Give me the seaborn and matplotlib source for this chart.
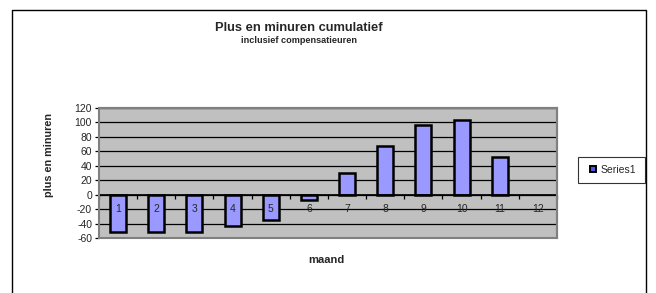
import numpy as np
import pandas as pd
import matplotlib
matplotlib.use("Agg")
import matplotlib.pyplot as plt
import matplotlib.patches as mpatches
from matplotlib.lines import Line2D
import seaborn as sns

# gegevens
maanden = [str(m) for m in range(1, 13)]
minuren = [-52, -52, -52, -43, -35, -7, 30, 68, 96, 104, 52, np.nan]
y_ticks = [-60, -40, -20, 0, 20, 40, 60, 80, 100, 120]

title = "Plus en minuren cumulatief"
subtitle = "inclusief compensatieuren"
series_name = "Series1"

sns.set_theme(style="white")
plt.rcParams["font.family"] = ["Liberation Sans", "DejaVu Sans"]

df = pd.DataFrame({"maand": maanden, "minuren": minuren})

fig = plt.figure(figsize=(6.56, 2.93), dpi=100)
ax = fig.add_axes([0.1509, 0.1877, 0.6981, 0.4437])
ax.set_facecolor("#C0C0C0")

sns.barplot(data=df, x="maand", y="minuren", order=maanden, color="#9999FF",
            edgecolor="black", linewidth=1.8, width=0.42, saturation=1,
            ax=ax, zorder=3)

ax.set_ylim(-60, 120)
ax.set_xlim(-0.5, 11.5)
ax.set_yticks(y_ticks)
ax.set_yticklabels([str(v) for v in y_ticks], fontsize=7.5)
for v in y_ticks:
    ax.axhline(v, color="black", linewidth=0.9, zorder=1)

# x-as op nul, streepjes tussen de categorieen
ax.spines["bottom"].set_position(("data", 0))
ax.spines["bottom"].set_color("black")
ax.spines["bottom"].set_zorder(4)
ax.set_xticks(np.arange(-0.5, 12, 1))
ax.set_xticklabels([])
ax.tick_params(axis="x", direction="out", length=3, width=0.9, color="black", bottom=True)
ax.tick_params(axis="y", direction="out", length=3, width=0.9, color="black", left=True, pad=2)
for i, lab in enumerate(maanden):
    ax.text(i, -20, lab, ha="center", va="center", fontsize=7.5, zorder=5)

for s in ["top", "right"]:
    ax.spines[s].set_color("#808080")
    ax.spines[s].set_linewidth(1.5)
ax.spines["left"].set_color("black")

# rand om de plotomgeving
ax.add_patch(mpatches.Rectangle((0, 0), 1, 1, transform=ax.transAxes, fill=False,
                                edgecolor="#808080", linewidth=1.5, zorder=6, clip_on=False))

ax.set_xlabel("")
ax.set_ylabel("")
fig.text(0.497, 0.113, "maand", ha="center", va="center", fontsize=8, fontweight="bold")
fig.text(0.074, 0.47, "plus en minuren", ha="center", va="center", rotation=90,
         fontsize=7.8, fontweight="bold")
fig.text(0.456, 0.903, title, ha="center", va="center", fontsize=9.3, fontweight="bold")
fig.text(0.456, 0.862, subtitle, ha="center", va="center", fontsize=6.6, fontweight="bold")

handle = Line2D([], [], linestyle="none", marker="s", markersize=4.5,
                markerfacecolor="#5555EE", markeredgecolor="black",
                markeredgewidth=1.4, label=series_name)
leg = fig.legend(handles=[handle], loc="center", bbox_to_anchor=(0.932, 0.42), fontsize=7.5,
                 frameon=True, fancybox=False, edgecolor="black", handlelength=1.2,
                 handletextpad=0.2, borderpad=0.8, borderaxespad=0)
leg.get_frame().set_linewidth(0.8)

# buitenkader zonder onderrand
fig.add_artist(plt.Line2D([0.0183, 0.0183, 0.9848, 0.9848], [0.0, 0.966, 0.966, 0.0],
                          transform=fig.transFigure, color="black", linewidth=1.0))

fig.savefig("out.png", dpi=100)
